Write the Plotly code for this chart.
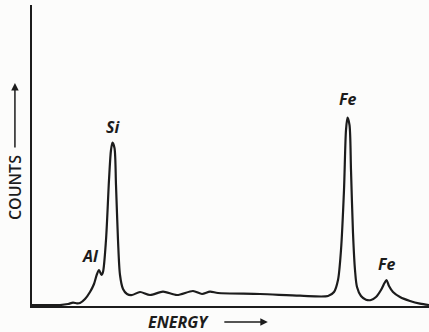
import plotly.graph_objects as go

# Energy (arbitrary keV-like units) and counts
energy = [0.00, 0.56, 0.72, 0.82, 0.90, 0.96, 1.06, 1.16, 1.24, 1.30, 1.34, 1.39, 1.42,
          1.48, 1.54, 1.58, 1.61, 1.65, 1.68, 1.72, 1.76, 1.82, 1.90, 2.00, 2.16, 2.36,
          2.62, 2.90, 3.22, 3.40, 3.56, 3.72, 4.56, 5.36, 5.92, 6.04, 6.12, 6.18, 6.24,
          6.28, 6.31, 6.35, 6.38, 6.42, 6.46, 6.50, 6.58, 6.68, 6.78, 6.88, 6.98, 7.05,
          7.09, 7.14, 7.22, 7.36, 7.56, 7.76, 7.94]
counts = [3, 3, 6, 10, 8, 9, 21, 42, 66, 96, 108, 93, 102,
          198, 378, 468, 490, 474, 363, 198, 93, 51, 36, 33, 42, 33,
          43, 33, 45, 36, 43, 39, 36, 31, 30, 42, 78, 168, 348,
          528, 565, 543, 408, 219, 108, 57, 30, 19, 18, 27, 48, 69,
          78, 60, 42, 27, 15, 7, 3]

peak_labels = ["Al", "Si", "Fe", "Fe"]
peak_index = [10, 16, 40, 52]

x_range = [0, 7.94]
y_range = [0, 903]

ink = "#1c1c1c"
lab_font = dict(family="Open Sans", size=16, color=ink, weight=700, style="italic")

fig = go.Figure()
fig.add_trace(go.Scatter(x=energy, y=counts, mode="lines",
                         line=dict(color=ink, width=2.2, shape="spline", smoothing=0.8),
                         hoverinfo="skip", showlegend=False))

label_shift = {"Al": (-9, 1), "Si": (0, 3), "Fe0": (0, 6), "Fe1": (0, 3)}
annos = []
fe_count = 0
for name, idx in zip(peak_labels, peak_index):
    key = name
    if name == "Fe":
        key = f"Fe{fe_count}"
        fe_count += 1
    xs, ys = label_shift[key]
    annos.append(dict(x=energy[idx], y=counts[idx], xref="x", yref="y", text=name,
                      showarrow=False, xanchor="center", yanchor="bottom",
                      xshift=xs, yshift=ys, font=lab_font))

# axis titles with arrows
annos.append(dict(x=-0.043, y=0.395, xref="paper", yref="paper", text="COUNTS",
                  textangle=-90, showarrow=False, xanchor="center", yanchor="middle",
                  font=dict(family="Open Sans", size=16, color=ink, weight=600)))
annos.append(dict(x=-0.043, y=0.741, xref="paper", yref="paper", text="",
                  showarrow=True, ax=0, ay=66, axref="pixel", ayref="pixel",
                  arrowhead=2, arrowsize=1, arrowwidth=1.5, arrowcolor=ink))
annos.append(dict(x=0.368, y=-0.053, xref="paper", yref="paper", text="ENERGY",
                  showarrow=False, xanchor="center", yanchor="middle",
                  font=dict(family="Open Sans", size=16, color=ink, weight=700, style="italic")))
annos.append(dict(x=0.594, y=-0.053, xref="paper", yref="paper", text="",
                  showarrow=True, ax=-45, ay=0, axref="pixel", ayref="pixel",
                  arrowhead=2, arrowsize=1, arrowwidth=1.5, arrowcolor=ink))

fig.update_layout(
    width=429, height=332,
    margin=dict(l=32, r=0, t=5, b=26),
    paper_bgcolor="#fcfcfb", plot_bgcolor="#fcfcfb",
    annotations=annos,
    xaxis=dict(range=x_range, showgrid=False, zeroline=False, showticklabels=False,
               ticks="", showline=True, linecolor=ink, linewidth=1.5, fixedrange=True),
    yaxis=dict(range=y_range, showgrid=False, zeroline=False, showticklabels=False,
               ticks="", showline=True, linecolor=ink, linewidth=1.5, fixedrange=True),
)

fig.write_html("out.html", config={"displayModeBar": False},
               post_script="document.body.style.margin='0';document.body.style.overflow='hidden';")
